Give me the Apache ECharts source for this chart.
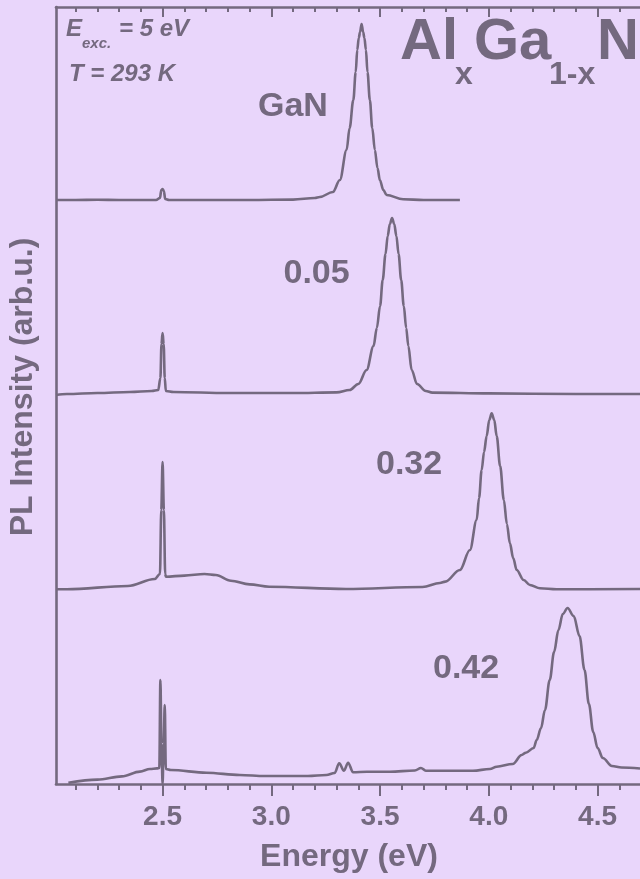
<!DOCTYPE html>
<html>
<head>
<meta charset="utf-8">
<script src="https://cdn.jsdelivr.net/npm/echarts@6/dist/echarts.min.js"></script>
<style>
html,body{margin:0;padding:0;background:#e9d6fb;}
#chart{width:640px;height:879px;}
</style>
</head>
<body>
<div id="chart"></div>
<script>
// ---- data (energy in eV, PL intensity in arb. units above each trace offset) ----
const traceNames = ['GaN', '0.05', '0.32', '0.42'];
const offsets = [290, 195, 97, 0];

const ganE = [2.01, 2.10, 2.20, 2.30, 2.40, 2.47, 2.488, 2.494, 2.500, 2.506, 2.512, 2.53, 2.70, 2.90, 3.10, 3.20, 3.223, 3.283, 3.315, 3.346, 3.360, 3.377, 3.388, 3.395, 3.402, 3.408, 3.415, 3.422, 3.428, 3.435, 3.442, 3.453, 3.464, 3.476, 3.488, 3.499, 3.515, 3.530, 3.606, 3.70, 3.867];
const ganI = [2.0, 2.0, 2.1, 2.0, 2.0, 2.0, 3.0, 7.0, 7.5, 6.5, 2.5, 2.0, 2.0, 2.0, 2.2, 3.0, 3.5, 6, 12, 27, 38, 52, 66, 77, 83, 86, 90, 86, 83, 77, 66, 52, 38, 27, 18, 12, 7, 4.5, 2.35, 2.0, 2.0];

const x005E = [2.01, 2.06, 2.20, 2.35, 2.45, 2.48, 2.490, 2.495, 2.500, 2.505, 2.510, 2.515, 2.55, 2.80, 3.10, 3.30, 3.36, 3.40, 3.438, 3.47, 3.485, 3.50, 3.512, 3.525, 3.535, 3.545, 3.555, 3.565, 3.575, 3.585, 3.597, 3.609, 3.62, 3.63, 3.645, 3.67, 3.71, 3.74, 4.00, 4.40, 4.695];
const x005I = [-0.5, 0, 0.5, 1.0, 1.5, 2.0, 8, 25, 30.5, 25, 8, 1.5, 1.0, 0.5, 0.5, 0.8, 2, 5, 12, 24, 33, 44, 57, 70, 79, 85, 88, 85, 79, 70, 57, 44, 33, 24, 12, 5, 1.5, 0.7, 0.3, 0, 0];

const x032E = [2.01, 2.06, 2.34, 2.464, 2.488, 2.494, 2.500, 2.506, 2.512, 2.515, 2.60, 2.693, 2.745, 2.814, 2.90, 2.99, 3.343, 3.695, 3.775, 3.80, 3.867, 3.913, 3.944, 3.955, 3.967, 3.978, 3.990, 4.002, 4.013, 4.025, 4.036, 4.052, 4.069, 4.083, 4.097, 4.112, 4.128, 4.160, 4.189, 4.235, 4.311, 4.695];
const x032I = [0.35, 0.35, 2, 5.5, 8, 40, 64, 40, 8, 6.65, 7.2, 8, 7.5, 4.65, 2.8, 1.65, 0.5, 1.5, 3.5, 4.2, 10, 20, 35, 46, 60, 69, 77, 85, 88.3, 85, 77, 62, 45, 33, 23.3, 16, 10, 5, 2.5, 0.85, 0.35, 0.5];

const x042E = [2.067, 2.20, 2.313, 2.396, 2.442, 2.474, 2.485, 2.490, 2.495, 2.500, 2.505, 2.510, 2.515, 2.538, 2.702, 2.855, 2.97, 3.085, 3.168, 3.253, 3.291, 3.312, 3.334, 3.353, 3.376, 3.439, 3.545, 3.66, 3.688, 3.71, 3.775, 3.927, 4.005, 4.036, 4.11, 4.151, 4.17, 4.206, 4.22, 4.24, 4.258, 4.28, 4.30, 4.32, 4.34, 4.362, 4.39, 4.417, 4.44, 4.46, 4.48, 4.50, 4.524, 4.566, 4.61, 4.695];
const x042I = [0.65, 2.2, 3.8, 6.2, 7.5, 7.8, 8, 52, 20, 0, 20, 39.5, 7.5, 7, 5.65, 4.5, 4, 4, 4, 4.5, 5.5, 10.35, 6.65, 10.65, 5.85, 6.15, 6.15, 6.75, 8, 6.65, 6.65, 6.65, 7.5, 8.65, 10, 14.5, 15.65, 18, 22, 28, 37, 52, 66, 77, 85, 88, 84, 74, 57, 40, 26, 18, 13, 9, 8.25, 7.75];

const majorTicks = [2.5, 3.0, 3.5, 4.0, 4.5];
const majorTickLabels = ['2.5', '3.0', '3.5', '4.0', '4.5'];
const minorTicks = [2.1, 2.2, 2.3, 2.4, 2.6, 2.7, 2.8, 2.9, 3.1, 3.2, 3.3, 3.4, 3.6, 3.7, 3.8, 3.9, 4.1, 4.2, 4.3, 4.4, 4.6];

const xTitle = 'Energy (eV)';
const yTitle = 'PL Intensity (arb.u.)';

// ---- chart ----
const C = '#74697f';
const FF = '"Liberation Sans", Arial, sans-serif';
const traces = [[ganE, ganI], [x005E, x005I], [x032E, x032I], [x042E, x042I]];
const X_MIN = 2.01, X_MAX = 4.695;

const series = traces.map(function (t, k) {
  return {
    name: traceNames[k],
    type: 'line',
    xAxisIndex: 0,
    yAxisIndex: 0,
    data: t[0].map(function (e, i) { return [e, t[1][i] + offsets[k]]; }),
    showSymbol: false,
    symbol: 'none',
    smooth: 0.35,
    smoothMonotone: 'x',
    lineStyle: { color: C, width: 2.6 },
    silent: true,
    animation: false
  };
});

function xAx(pos, ticks, len, inside, showLine, showLabel) {
  return {
    type: 'value', position: pos, min: X_MIN, max: X_MAX, gridIndex: 0,
    axisLine: { show: showLine, onZero: false, lineStyle: { color: C, width: 2.6 } },
    axisTick: { show: true, customValues: ticks, length: len, inside: inside, lineStyle: { color: C, width: 2 } },
    axisLabel: showLabel ? {
      show: true, customValues: majorTicks,
      formatter: function (v) { var i = majorTicks.findIndex(function (m) { return Math.abs(m - v) < 1e-6; }); return i >= 0 ? majorTickLabels[i] : ''; },
      fontSize: 28, fontWeight: 'bold', fontFamily: FF, color: C, margin: 19
    } : { show: false },
    splitLine: { show: false }
  };
}

const chart = echarts.init(document.getElementById('chart'), null, { renderer: 'canvas' });
chart.setOption({
  backgroundColor: '#e9d6fb',
  animation: false,
  grid: { left: 56, top: 7, right: 0, height: 777, containLabel: false },
  xAxis: [
    xAx('bottom', majorTicks, 12, false, true, true),
    xAx('bottom', minorTicks, 6, false, false, false),
    xAx('top', majorTicks, 10, true, true, false),
    xAx('top', minorTicks, 5, true, false, false)
  ],
  yAxis: {
    type: 'value', min: 0, max: 388.5,
    axisLine: { show: true, lineStyle: { color: C, width: 2.6 } },
    axisTick: { show: false }, axisLabel: { show: false }, splitLine: { show: false }
  },
  series: series,
  graphic: [
    { type: 'text', style: { text: xTitle, x: 349, y: 857, align: 'center', verticalAlign: 'middle', font: 'bold 32px ' + FF, fill: C } },
    { type: 'text', rotation: Math.PI / 2, x: 23, y: 387, style: { text: yTitle, x: 0, y: 0, align: 'center', verticalAlign: 'middle', font: 'bold 32px ' + FF, fill: C } },
    { type: 'text', style: { text: 'E', x: 66, y: 29.5, verticalAlign: 'middle', font: 'italic bold 24px ' + FF, fill: C } },
    { type: 'text', style: { text: 'exc.', x: 82, y: 43.5, verticalAlign: 'middle', font: 'italic bold 15px ' + FF, fill: C } },
    { type: 'text', style: { text: '= 5 eV', x: 119, y: 29.5, verticalAlign: 'middle', font: 'italic bold 24px ' + FF, fill: C } },
    { type: 'text', style: { text: 'T = 293 K', x: 69, y: 74, verticalAlign: 'middle', font: 'italic bold 24px ' + FF, fill: C } },
    { type: 'text', style: { text: traceNames[0], x: 258, y: 107, verticalAlign: 'middle', font: 'bold 34px ' + FF, fill: C } },
    { type: 'text', style: { text: traceNames[1], x: 283.5, y: 274, verticalAlign: 'middle', font: 'bold 34px ' + FF, fill: C } },
    { type: 'text', style: { text: traceNames[2], x: 376, y: 465, verticalAlign: 'middle', font: 'bold 34px ' + FF, fill: C } },
    { type: 'text', style: { text: traceNames[3], x: 433, y: 669, verticalAlign: 'middle', font: 'bold 34px ' + FF, fill: C } },
    { type: 'text', style: { text: 'Al', x: 400, y: 43.4, verticalAlign: 'middle', font: 'bold 58px ' + FF, fill: C } },
    { type: 'text', style: { text: 'x', x: 455, y: 75.5, verticalAlign: 'middle', font: 'bold 32px ' + FF, fill: C } },
    { type: 'text', style: { text: 'Ga', x: 474, y: 43.4, verticalAlign: 'middle', font: 'bold 58px ' + FF, fill: C } },
    { type: 'text', style: { text: '1-x', x: 549, y: 75.5, verticalAlign: 'middle', font: 'bold 32px ' + FF, fill: C } },
    { type: 'text', style: { text: 'N', x: 597, y: 43.4, verticalAlign: 'middle', font: 'bold 58px ' + FF, fill: C } }
  ]
});
</script>
</body>
</html>
